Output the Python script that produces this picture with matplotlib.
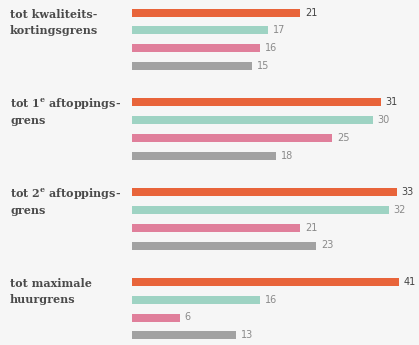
import matplotlib
matplotlib.use("Agg")
import matplotlib.pyplot as plt

categories = ["tot kwaliteits-\nkortingsgrens",
              "tot 1$^{\\mathrm{e}}$ aftoppings-\ngrens",
              "tot 2$^{\\mathrm{e}}$ aftoppings-\ngrens",
              "tot maximale\nhuurgrens"]
orange = [21, 31, 33, 41]
green = [17, 30, 32, 16]
pink = [16, 25, 21, 6]
grey = [15, 18, 23, 13]

series = [orange, green, pink, grey]
colors = ["#E8643A", "#9ED3C3", "#E07F9B", "#A2A2A2"]
label_colors = ["#444444", "#8a8a8a", "#8a8a8a", "#8a8a8a"]

plt.rcParams["mathtext.fontset"] = "custom"
plt.rcParams["mathtext.rm"] = "DejaVu Serif:bold"

W, H = 419, 345
fig = plt.figure(figsize=(W / 100, H / 100), dpi=100)
fig.patch.set_facecolor("#F6F6F6")
ax = fig.add_axes([132 / W, 0, (399 - 132) / W, 1])
ax.set_facecolor("#F6F6F6")
xmax = 33.3
ax.set_xlim(0, xmax)
ax.set_ylim(H, 0)
ax.axis("off")

for g, cat in enumerate(categories):
    y0 = 12.5 + 89.8 * g
    for i, vals in enumerate(series):
        y = y0 + 17.8 * i
        v = vals[g]
        ax.barh(y, v, height=8, color=colors[i])
        ax.text(min(v, xmax) + 0.55, y, str(v), va="center", ha="left",
                fontsize=7, color=label_colors[i], clip_on=False,
                family="DejaVu Sans")
    for k, line in enumerate(cat.split("\n")):
        fig.text(10 / W, 1 - (y0 + 5 + 16.5 * k) / H, line, ha="left",
                 va="baseline", fontsize=8, fontweight="bold",
                 color="#4a4a4a", family="DejaVu Serif")

fig.savefig("out.png", dpi=100, facecolor=fig.get_facecolor())
